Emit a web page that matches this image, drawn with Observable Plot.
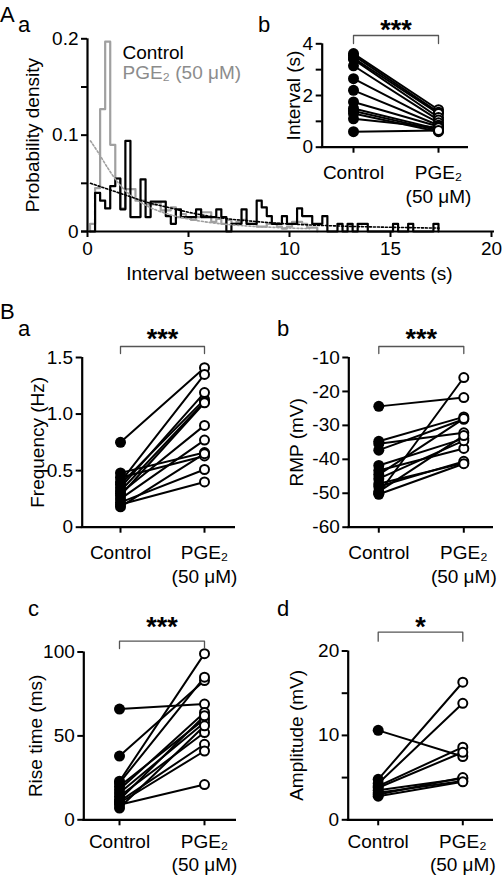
<!DOCTYPE html>
<html><head><meta charset="utf-8">
<script src="https://cdn.jsdelivr.net/npm/d3@7"></script>
<script src="https://cdn.jsdelivr.net/npm/@observablehq/plot@0.6"></script>
<style>
body{margin:0;background:#fff;}
#fig{position:relative;width:502px;height:878px;background:#fff;font-family:"Liberation Sans",Arial,sans-serif;overflow:hidden;}
#fig svg{position:absolute;}
.lbl{position:absolute;font-size:22px;line-height:1;color:#000;}
</style></head><body><div id="fig"></div>
<script>
// ---------- DATA ----------
// Histogram (A a): probability density per 0.25 s bin, first bin centred at 0.25 s
const binWidth = 0.25;
const firstBinCenter = 0.25;
const controlDensity = [0,0.040,0.032,0.024,0.047,0.055,0.023,0.094,0.015,0.015,0.054,0.015,0.031,0.031,0.031,0.016,0.008,0.023,0.015,0.015,0.015,0.023,0.015,0.015,0.015,0.023,0.015,0,0.008,0.008,0.023,0.008,0.008,0.032,0.025,0.016,0.008,0.008,0.016,0.008,0.008,0.024,0.016,0.016,0.008,0.008,0.016,0,0,0.008,0,0.008,0,0.008,0.008,0,0,0,0,0,0.008,0,0,0.008,0,0,0,0,0.008];
const pgeDensity = [0.008,0.045,0.127,0.197,0.090,0.055,0.024,0.044,0.044,0.032,0.032,0.028,0.028,0.030,0.022,0.022,0.025,0.015,0.018,0.015,0.012,0.015,0.020,0.020,0.010,0.013,0.008,0.012,0.008,0.010,0.012,0.008,0.008,0.005,0.005,0.008,0.008,0.005,0.003,0.005,0.010,0.010,0.008,0.004,0.004];
// Exponential fits
const controlFit = [[0.15,0.050],[1,0.044],[2,0.037],[3,0.030],[4,0.025],[5,0.020],[6,0.016],[7,0.013],[8,0.011],[9,0.0092],[10,0.0078],[12,0.0060],[14,0.0048],[16,0.0040],[17.4,0.0035]];
const pgeFit = [[0.15,0.094],[0.5,0.083],[1,0.066],[1.5,0.051],[2,0.040],[3,0.026],[4,0.018],[5,0.013],[6,0.0095],[7,0.0072],[8,0.0056],[9,0.0045],[10,0.0036],[11,0.0030]];
const histLegend = ["Control", "PGE₂ (50 μM)"];

const conditions = ["Control", "PGE₂\n(50 μM)"];
// A b: interval (s)
const intervalControl = [3.62,3.55,3.45,3.40,3.15,2.65,2.20,1.75,1.50,1.40,1.30,1.10,0.60];
const intervalPGE     = [1.45,1.35,1.30,1.15,1.05,0.95,0.85,0.80,0.70,0.65,0.60,0.75,0.65];
// B a: frequency (Hz)
const freqControl = [0.75,0.48,0.44,0.40,0.38,0.35,0.32,0.30,0.28,0.25,0.22,0.20,0.18];
const freqPGE     = [1.41,0.66,0.63,1.35,1.13,1.19,1.11,0.90,1.10,0.77,0.51,0.40,0.65];
// B b: RMP (mV)
const rmpControl = [-24.4,-34.7,-35.4,-37.3,-41.8,-43.3,-44.5,-45.7,-47.2,-48.0,-49.5,-50.0,-50.3];
const rmpPGE     = [-21.8,-27.5,-32.2,-28.2,-33.9,-36.8,-28.0,-34.5,-41.1,-40.6,-33.0,-15.9,-41.3];
// B c: rise time (ms)
const riseControl = [66,38,23,22,20,18,16,14,12,11,10,9,7];
const risePGE     = [69,83,99,85,60,64,58,52,62,45,41,21,56];
// B d: amplitude (mV)
const ampControl = [10.6,4.8,4.3,4.0,3.8,3.5,3.2,3.0,2.8];
const ampPGE     = [7.5,16.3,13.8,8.6,8.0,4.9,4.6,5.0,4.5];

// ---------- DRAWING ----------
const fig = document.getElementById("fig");
const FONT = "'Liberation Sans', Arial, Helvetica, sans-serif";
const baseStyle = {background: "none", overflow: "visible", fontFamily: FONT, fontSize: "19px", color: "#000"};
function place(svg, left, top) { svg.style.left = left + "px"; svg.style.top = top + "px"; fig.appendChild(svg); }

// Panel A a — histogram
(function () {
  const left = 0, top = 0, width = 502, height = 290;
  const yAxisX = 87, xEnd = 491, yTopPx = 38.3, yBotPx = 231;
  const e0 = firstBinCenter - binWidth / 2;
  const steps = vals => [{x: e0, y: 0}, ...vals.map((v, k) => ({x: e0 + k * binWidth, y: v})), {x: e0 + vals.length * binWidth, y: 0}];
  const svg = Plot.plot({
    width, height,
    marginLeft: yAxisX - left, marginRight: left + width - xEnd,
    marginTop: yTopPx - top, marginBottom: top + height - yBotPx,
    x: {domain: [0, 20]}, y: {domain: [0, 0.2]},
    style: baseStyle,
    marks: [
      Plot.line(steps(pgeDensity), {x: "x", y: "y", curve: "step-after", stroke: "#a0a0a0", strokeWidth: 2.2}),
      Plot.line(steps(controlDensity), {x: "x", y: "y", curve: "step-after", stroke: "#000", strokeWidth: 2.2}),
      Plot.line(pgeFit, {x: d => d[0], y: d => d[1], curve: "monotone-x", stroke: "#a0a0a0", strokeWidth: 1.6, strokeDasharray: "2,2"}),
      Plot.line(controlFit, {x: d => d[0], y: d => d[1], curve: "monotone-x", stroke: "#000", strokeWidth: 1.6, strokeDasharray: "2,2"}),
      Plot.ruleY([0], {stroke: "#000", strokeWidth: 2.2, insetLeft: -6, insetRight: -3}),
      Plot.ruleX([0], {stroke: "#000", strokeWidth: 2.2}),
      Plot.axisY({ticks: [0, 0.1, 0.2], tickFormat: d => d === 0 ? "0" : d.toFixed(1), tickSize: 6, tickPadding: 3, strokeWidth: 2, label: null}),
      Plot.axisY({ticks: [0.05, 0.15], tickFormat: () => "", tickSize: 6, strokeWidth: 2, label: null}),
      Plot.axisX({ticks: [0, 5, 10, 15, 20], tickFormat: d => String(d), tickSize: 6, tickPadding: 4, strokeWidth: 2, label: null}),
      Plot.text(["Interval between successive events (s)"], {frameAnchor: "bottom", dy: 48, lineAnchor: "bottom", textAnchor: "middle"}),
      Plot.text(["Probability density"], {frameAnchor: "left", rotate: -90, dx: 32 - yAxisX, textAnchor: "middle", lineAnchor: "middle"}),
      Plot.text([histLegend[0]], {frameAnchor: "top-left", dx: 122 - yAxisX, dy: 58.5 - yTopPx, lineAnchor: "bottom", textAnchor: "start", fill: "#000"}),
      Plot.text([histLegend[1]], {frameAnchor: "top-left", dx: 122 - yAxisX, dy: 78.5 - yTopPx, lineAnchor: "bottom", textAnchor: "start", fill: "#8c8c8c"})
    ]
  });
  place(svg, left, top);
})();

// Paired before/after panels
function pairedPanel(o) {
  const marginLeft = o.yAxisX - o.left, marginRight = o.left + o.width - o.xEnd;
  const marginTop = o.yTopPx - o.top, marginBottom = o.top + o.height - o.yBotPx;
  const unit = o.xPge - o.xCtl;
  const xd = [-(o.xCtl - o.yAxisX) / unit, 1 + (o.xEnd - o.xPge) / unit];
  const upp = (o.domain[1] - o.domain[0]) / (o.yBotPx - o.yTopPx);
  const pxToY = px => o.domain[1] + (o.yTopPx - px) * upp;
  const yB = pxToY(o.bracketPx), yBt = pxToY(o.bracketTickPx);
  const starFs = 27;
  const yStar = pxToY(o.starPx + 0.255 * starFs);
  const rows = o.ctl.flatMap((c, i) => [{id: i, x: 0, y: c}, {id: i, x: 1, y: o.pge[i]}]);
  const svg = Plot.plot({
    width: o.width, height: o.height, marginLeft, marginRight, marginTop, marginBottom,
    x: {domain: xd}, y: {domain: o.domain},
    style: baseStyle,
    marks: [
      Plot.ruleY([o.domain[0]], {stroke: "#000", strokeWidth: 2.2, insetLeft: -1}),
      Plot.ruleX([xd[0]], {stroke: "#000", strokeWidth: 2.2}),
      Plot.axisY({ticks: o.ticks, tickFormat: o.fmt || (d => String(d)), tickSize: 6, tickPadding: 3, strokeWidth: 2, label: null}),
      o.minor ? Plot.axisY({ticks: o.minor, tickFormat: () => "", tickSize: 6, strokeWidth: 2, label: null}) : null,
      Plot.axisX({ticks: [0, 1], tickFormat: () => "", tickSize: 6, strokeWidth: 2, label: null}),
      Plot.text(conditions, {x: (d, i) => i, frameAnchor: "bottom", dy: o.catDy || 14, lineAnchor: "top", textAnchor: "middle", lineHeight: o.catLH || 1.3}),
      Plot.text([o.label], {frameAnchor: "left", rotate: -90, dx: o.labelX - o.yAxisX, textAnchor: "middle", lineAnchor: "middle"}),
      Plot.line(rows, {x: "x", y: "y", z: "id", stroke: "#000", strokeWidth: 2}),
      Plot.dot(rows.filter(d => d.x === 0), {x: "x", y: "y", r: 5.5, fill: "#000", stroke: "none"}),
      Plot.dot(rows.filter(d => d.x === 1), {x: "x", y: "y", r: 4.5, fill: "#fff", stroke: "#000", strokeWidth: 2}),
      Plot.line([[0, yBt], [0, yB], [1, yB], [1, yBt]], {x: d => d[0], y: d => d[1], stroke: "#555", strokeWidth: 1.3}),
      Plot.text([o.stars], {x: () => 0.5, y: () => yStar, fontSize: starFs, fontWeight: "bold", lineAnchor: "middle", textAnchor: "middle"})
    ]
  });
  place(svg, o.left, o.top);
}

// A b
pairedPanel({left: 240, top: 0, width: 262, height: 215, yAxisX: 321.7, xEnd: 468, xCtl: 353, xPge: 438,
  yTopPx: 43.3, yBotPx: 146.7, domain: [0, 4], ticks: [0, 2, 4], minor: [1, 3], label: "Interval (s)", labelX: 293,
  ctl: intervalControl, pge: intervalPGE, stars: "***", bracketPx: 35, bracketTickPx: 43, starPx: 23});
// B a
pairedPanel({left: 0, top: 300, width: 250, height: 300, yAxisX: 81.7, xEnd: 235, xCtl: 120, xPge: 204,
  yTopPx: 357, yBotPx: 526.7, domain: [0, 1.5], ticks: [0, 0.5, 1, 1.5], fmt: d => d === 0 ? "0" : d.toFixed(1),
  label: "Frequency (Hz)", labelX: 37, ctl: freqControl, pge: freqPGE, stars: "***", bracketPx: 346, bracketTickPx: 353, starPx: 332});
// B b
pairedPanel({left: 251, top: 300, width: 251, height: 300, yAxisX: 348.3, xEnd: 493, xCtl: 378.3, xPge: 463.3,
  yTopPx: 357, yBotPx: 526.7, domain: [-60, -10], ticks: [-60, -50, -40, -30, -20, -10],
  label: "RMP (mV)", labelX: 296, ctl: rmpControl, pge: rmpPGE, stars: "***", bracketPx: 346, bracketTickPx: 353, starPx: 332});
// B c
pairedPanel({left: 0, top: 600, width: 250, height: 278, yAxisX: 83.3, xEnd: 236, xCtl: 119, xPge: 204,
  yTopPx: 651.5, yBotPx: 819.3, domain: [0, 100], ticks: [0, 50, 100], catDy: 12, catLH: 1.2,
  label: "Rise time (ms)", labelX: 35, ctl: riseControl, pge: risePGE, stars: "***", bracketPx: 640.7, bracketTickPx: 648, starPx: 620});
// B d
pairedPanel({left: 251, top: 600, width: 251, height: 278, yAxisX: 347.7, xEnd: 493, xCtl: 377.7, xPge: 462.3,
  yTopPx: 650.5, yBotPx: 819.3, domain: [0, 20], ticks: [0, 10, 20], minor: [5, 15], catDy: 12, catLH: 1.2,
  label: "Amplitude (mV)", labelX: 296, ctl: ampControl, pge: ampPGE, stars: "*", bracketPx: 631.7, bracketTickPx: 640.7, starPx: 620});

// Panel letters
const letters = [["A", 0, 23], ["a", 18, 33], ["b", 258, 33], ["B", 0, 320], ["a", 18, 337], ["b", 277, 337], ["c", 28, 617], ["d", 277, 617]];
for (const [t, x, base] of letters) {
  const d = document.createElement("div");
  d.className = "lbl"; d.textContent = t;
  d.style.left = x + "px"; d.style.top = (base - 18.6) + "px";
  fig.appendChild(d);
}
</script></body></html>
